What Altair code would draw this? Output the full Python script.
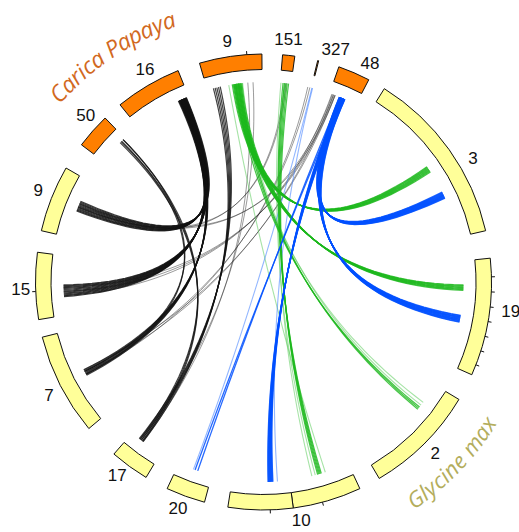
import math
import numpy as np
import pandas as pd
import altair as alt

W, H = 519, 532
CX, CY = 263.5, 282.0          # circle centre (pixels)
R_OUT, R_IN, R_LINK = 228.0, 212.5, 200.0

# ---------------- chromosome segments (angles in degrees, clockwise from top)
seg_name = ["50", "16", "9", "151", "327", "48",
            "3", "19", "2", "10", "10", "20", "17", "7", "15", "9"]
seg_species = ["Carica Papaya"] * 6 + ["Glycine max"] * 10
seg_start = [307.0, 321.0, 343.7, 4.8, 13.75, 19.3,
             32.0, 84.0, 121.0, 155.0, 172.5, 195.0, 211.0, 230.0, 260.5, 283.0]
seg_end = [316.0, 338.0, 359.6, 7.9, 14.0, 27.5,
           77.0, 114.0, 149.5, 172.5, 189.0, 205.0, 221.0, 256.0, 277.5, 300.0]

# ---------------- chromosome labels
lab_text = ["50", "16", "9", "151", "327", "48", "3", "19", "2", "10", "20", "17", "7", "15", "9"]
lab_theta = [313.0, 330.8, 351.4, 5.9, 17.3, 26.0, 59.6, 97.0, 135.0, 171.0, 200.6, 217.0, 242.0, 268.0, 292.0]

# ---------------- tick marks on the outer edge
tick_theta = [88.7, 92.5, 96.3, 100.0, 103.8, 107.6, 111.3, 267.6, 178.3, 355.8, 165.0]

# ---------------- synteny links: source range -> target range, number of lines, kind
link_src0 = [335.0, 335.3, 334.8, 345.5, 314.2, 314.6, 20.0, 20.2, 12.8, 355.5, 6.2, 20.5,
             351.0, 351.5, 352.0, 5.6, 5.0, 353.0, 350.0,
             22.3, 22.3, 22.6, 22.5, 14.0, 14.2]
link_src1 = [337.2, 337.3, 336.2, 347.5, 315.4, 315.4, 21.0, 20.8, 13.4, 357.0, 6.6, 21.0,
             353.2, 353.8, 353.5, 7.2, 6.0, 354.0, 350.0,
             24.0, 24.0, 23.8, 23.0, 14.0, 14.2]
link_tgt0 = [265.8, 290.8, 242.2, 217.0, 217.2, 242.6, 266.0, 292.0, 242.5, 217.0, 291.0, 243.0,
             54.8, 90.8, 128.7, 163.2, 165.0, 127.0, 162.0,
             63.3, 99.6, 177.3, 199.2, 200.5, 176.0]
link_tgt1 = [269.2, 293.8, 244.0, 218.4, 218.2, 243.4, 268.5, 293.0, 243.5, 218.0, 292.0, 244.0,
             56.6, 92.4, 129.5, 164.3, 166.0, 128.0, 162.0,
             65.2, 101.6, 178.7, 200.0, 200.5, 176.0]
link_n = [14, 12, 7, 5, 3, 2, 3, 2, 2, 2, 2, 2,
          9, 9, 3, 5, 2, 2, 1,
          12, 12, 9, 2, 1, 1]
link_kind = ["black"] * 6 + ["gray"] * 6 + ["green"] * 4 + ["lightgreen"] * 3 + \
            ["blue"] * 4 + ["lightblue"] * 2

# ---------------- styles
STYLE = {
    "gray": ("#222222", 0.45, 1.0),
    "lightgreen": ("#5ccc5c", 0.55, 1.1),
    "lightblue": ("#3b7bff", 0.55, 1.1),
    "black": ("#111111", 0.8, 1.2),
    "green": ("#1cb81c", 0.8, 1.2),
    "blue": ("#0050ff", 0.85, 1.3),
}
ORANGE, YELLOW = "#ff7f00", "#ffff99"


def polar(theta_deg, r):
    t = math.radians(theta_deg)
    return r * math.sin(t), r * math.cos(t)


# links -> bezier curves (control point at centre)
rows = []
for b in range(len(link_n)):
    n = link_n[b]
    for i in range(n):
        f = 0.5 if n == 1 else i / (n - 1)
        s = link_src0[b] + (link_src1[b] - link_src0[b]) * f
        t = link_tgt0[b] + (link_tgt1[b] - link_tgt0[b]) * f
        x0, y0 = polar(s, R_LINK)
        x2, y2 = polar(t, R_LINK)
        for k, u in enumerate(np.linspace(0, 1, 41)):
            rows.append(dict(id=f"{b:02d}_{i:02d}", k=k,
                             x=(1 - u) ** 2 * x0 + u ** 2 * x2,
                             y=(1 - u) ** 2 * y0 + u ** 2 * y2,
                             kind=link_kind[b]))
links = pd.DataFrame(rows)

xs = alt.Scale(domain=[-CX, W - CX], nice=False, zero=False)
ys = alt.Scale(domain=[CY - H, CY], nice=False, zero=False)
th = alt.Scale(domain=[0, 360], range=[0, 2 * math.pi])

layers = []
for kind in ["gray", "lightgreen", "lightblue", "black", "green", "blue"]:
    col, op, sw = STYLE[kind]
    layers.append(
        alt.Chart(links[links.kind == kind]).mark_line(
            color=col, opacity=op, strokeWidth=sw, interpolate="linear"
        ).encode(
            x=alt.X("x:Q", scale=xs, axis=None),
            y=alt.Y("y:Q", scale=ys, axis=None),
            detail="id:N",
            order="k:Q",
        )
    )

segs = pd.DataFrame(dict(name=seg_name, species=seg_species, a0=seg_start, a1=seg_end))
arcs = alt.Chart(segs).mark_arc(radius=R_OUT, radius2=R_IN, stroke="#111111", strokeWidth=1).encode(
    x=alt.value(CX), y=alt.value(CY),
    theta=alt.Theta("a0:Q", scale=th, stack=False),
    theta2="a1:Q",
    fill=alt.Fill("species:N", scale=alt.Scale(domain=["Carica Papaya", "Glycine max"],
                                               range=[ORANGE, YELLOW]), legend=None),
)
layers.append(arcs)

# ticks
trows = []
for a in tick_theta:
    x1, y1 = polar(a, R_OUT)
    x2, y2 = polar(a, R_OUT + 3.5)
    trows.append(dict(x=x1, y=y1, x2=x2, y2=y2))
ticks = alt.Chart(pd.DataFrame(trows)).mark_rule(color="#111111", strokeWidth=1).encode(
    x=alt.X("x:Q", scale=xs, axis=None), y=alt.Y("y:Q", scale=ys, axis=None),
    x2="x2:Q", y2="y2:Q")
layers.append(ticks)

# labels
LAB_R = {"19": 249.0, "10": 241.5}
lrows = []
for txt, a in zip(lab_text, lab_theta):
    x, y = polar(a, LAB_R.get(txt, 243.0))
    lrows.append(dict(t=txt, x=x, y=y))
labels = alt.Chart(pd.DataFrame(lrows)).mark_text(
    font="Liberation Sans", fontSize=17, color="#111111", align="center", baseline="middle"
).encode(x=alt.X("x:Q", scale=xs, axis=None), y=alt.Y("y:Q", scale=ys, axis=None), text="t:N")
layers.append(labels)

# species names, set along the circle
ADV = {"C": .63, "a": .55, "r": .38, "i": .26, "c": .47, " ": .26, "P": .57, "p": .56,
       "y": .50, "G": .66, "l": .25, "n": .56, "e": .53, "m": .85, "x": .50}


def arc_text(text, theta_first, radius, size, direction):
    adv = [ADV[c] * size for c in text]
    out = []
    pos = 0.0
    for i, c in enumerate(text):
        if i > 0:
            pos += (adv[i - 1] + adv[i]) / 2
        a = theta_first + direction * math.degrees(pos / radius)
        x, y = polar(a, radius)
        rot = a % 360 if direction > 0 else (a - 180) % 360
        out.append(dict(c=c, x=x, y=y, rot=rot))
    return out


sp_rows = arc_text("Carica Papaya", 312.5, 277.0, 23, +1)
sp = alt.Chart(pd.DataFrame(sp_rows)).mark_text(
    font="Open Sans", fontStyle="italic", fontSize=23, color="#d2691e",
    align="center", baseline="middle"
).encode(x=alt.X("x:Q", scale=xs, axis=None), y=alt.Y("y:Q", scale=ys, axis=None),
         text="c:N", angle=alt.Angle("rot:Q", scale=None))
layers.append(sp)

gm_rows = arc_text("Glycine max", 145.0, 266.0, 22, -1)
gm = alt.Chart(pd.DataFrame(gm_rows)).mark_text(
    font="Open Sans", fontStyle="italic", fontSize=22, color="#b3ad5c",
    align="center", baseline="middle"
).encode(x=alt.X("x:Q", scale=xs, axis=None), y=alt.Y("y:Q", scale=ys, axis=None),
         text="c:N", angle=alt.Angle("rot:Q", scale=None))
layers.append(gm)

chart = alt.layer(*layers).properties(
    width=W, height=H, padding=0, autosize="none", background="white"
).configure_view(strokeWidth=0)

chart.save("out.html", embed_options={"renderer": "svg", "actions": False})
